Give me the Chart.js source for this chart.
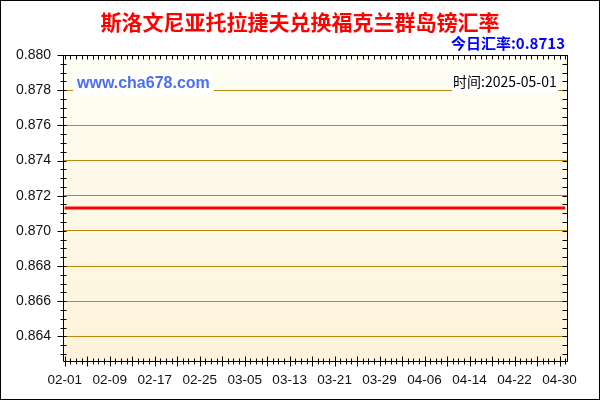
<!DOCTYPE html>
<html>
<head>
<meta charset="utf-8">
<script src="https://cdn.jsdelivr.net/npm/chart.js@4/dist/chart.umd.min.js"></script>
<style>
body{margin:0;background:#fff;}
canvas{display:block;}
</style>
</head>
<body>
<canvas id="myChart" width="600" height="400"></canvas>
<script>
const dates = [
    '02-01','02-02','02-03','02-04','02-05','02-06','02-07','02-08','02-09','02-10',
    '02-11','02-12','02-13','02-14','02-15','02-16','02-17','02-18','02-19','02-20',
    '02-21','02-22','02-23','02-24','02-25','02-26','02-27','02-28',
    '03-01','03-02','03-03','03-04','03-05','03-06','03-07','03-08','03-09','03-10',
    '03-11','03-12','03-13','03-14','03-15','03-16','03-17','03-18','03-19','03-20',
    '03-21','03-22','03-23','03-24','03-25','03-26','03-27','03-28','03-29','03-30','03-31',
    '04-01','04-02','04-03','04-04','04-05','04-06','04-07','04-08','04-09','04-10',
    '04-11','04-12','04-13','04-14','04-15','04-16','04-17','04-18','04-19','04-20',
    '04-21','04-22','04-23','04-24','04-25','04-26','04-27','04-28','04-29','04-30',
    '05-01'
];
const rates = [
    0.8713,0.8713,0.8713,0.8713,0.8713,0.8713,0.8713,0.8713,0.8713,0.8713,
    0.8713,0.8713,0.8713,0.8713,0.8713,0.8713,0.8713,0.8713,0.8713,0.8713,
    0.8713,0.8713,0.8713,0.8713,0.8713,0.8713,0.8713,0.8713,
    0.8713,0.8713,0.8713,0.8713,0.8713,0.8713,0.8713,0.8713,0.8713,0.8713,
    0.8713,0.8713,0.8713,0.8713,0.8713,0.8713,0.8713,0.8713,0.8713,0.8713,
    0.8713,0.8713,0.8713,0.8713,0.8713,0.8713,0.8713,0.8713,0.8713,0.8713,0.8713,
    0.8713,0.8713,0.8713,0.8713,0.8713,0.8713,0.8713,0.8713,0.8713,0.8713,
    0.8713,0.8713,0.8713,0.8713,0.8713,0.8713,0.8713,0.8713,0.8713,0.8713,
    0.8713,0.8713,0.8713,0.8713,0.8713,0.8713,0.8713,0.8713,0.8713,0.8713,
    0.8713
];
const xTickLabels = ['02-01','02-09','02-17','02-25','03-05','03-13','03-21','03-29','04-06','04-14','04-22','04-30'];
const yTicks = [0.864,0.866,0.868,0.870,0.872,0.874,0.876,0.878,0.880];

const titleText = '斯洛文尼亚托拉捷夫兑换福克兰群岛镑汇率';
const todayText = '今日汇率:0.8713';
const siteText = 'www.cha678.com';
const timeText = '时间:2025-05-01';

// background of the plot area
const bgPlugin = {
    id: 'bgPlugin',
    beforeDraw(chart){
        const ctx = chart.ctx;
        const a = chart.chartArea;
        ctx.save();
        ctx.fillStyle = '#fff';
        ctx.fillRect(0, 0, chart.width, chart.height);
        const g = ctx.createLinearGradient(0, a.top, 0, a.bottom);
        g.addColorStop(0, '#fefef4');
        g.addColorStop(1, '#fef3da');
        ctx.fillStyle = g;
        ctx.fillRect(a.left, a.top, a.right - a.left, a.bottom - a.top);
        ctx.restore();
    }
};

// frame, small ticks on every side, texts
const framePlugin = {
    id: 'framePlugin',
    afterDraw(chart){
        const ctx = chart.ctx;
        const a = chart.chartArea;
        const x = chart.scales.x;
        const y = chart.scales.y;
        const L = Math.round(a.left) + 0.5, R = Math.round(a.right) - 0.5;
        const T = Math.round(a.top) + 0.5, B = Math.round(a.bottom) + 0.5;
        ctx.save();
        ctx.strokeStyle = '#000';
        ctx.lineWidth = 1;
        ctx.beginPath();
        ctx.moveTo(L, T); ctx.lineTo(R, T); ctx.lineTo(R, B); ctx.lineTo(L, B); ctx.closePath();
        for(let i=0;i<dates.length;i++){
            const px = Math.round(x.getPixelForValue(i)) + 0.5;
            const len = (i % 4 == 0) ? 5 : 3;
            ctx.moveTo(px, B - len); ctx.lineTo(px, B + len);
            ctx.moveTo(px, T); ctx.lineTo(px, T + 4);
        }
        for(let k=0;k<=40;k++){
            const v = 0.860 + k*0.0005;
            if(v < y.min - 1e-9 || v > y.max + 1e-9) continue;
            const py = Math.round(y.getPixelForValue(v)) + 0.5;
            const major = (k % 4 == 0);
            ctx.moveTo(L - (major ? 6 : 3), py); ctx.lineTo(L + 3, py);
            ctx.moveTo(R - 5, py); ctx.lineTo(R, py);
        }
        ctx.stroke();

        // white boxes behind the inner texts
        ctx.fillStyle = '#fff';
        ctx.fillRect(73, 74, 141, 21);
        ctx.fillRect(452, 73, 106, 20);

        ctx.textBaseline = 'middle';
        ctx.textAlign = 'center';
        ctx.fillStyle = '#ff0000';
        ctx.font = 'bold 21px "Noto Sans CJK SC"';
        ctx.fillText(titleText, 300, 22);

        ctx.textAlign = 'right';
        ctx.fillStyle = '#0000ff';
        ctx.font = 'bold 15px "Noto Sans CJK SC"';
        ctx.fillText(todayText, 565, 43);

        ctx.textAlign = 'left';
        ctx.fillStyle = '#4a6ff0';
        ctx.font = 'bold 16px "Liberation Sans", Arial';
        ctx.fillText(siteText, 77, 84);

        ctx.fillStyle = '#000';
        ctx.font = '14px "Noto Sans CJK SC"';
        ctx.fillText(timeText, 453, 82);

        ctx.strokeRect(0.5, 0.5, chart.width - 1, chart.height - 1);
        ctx.restore();
    }
};

const points = dates.map((d, i) => ({x: i, y: rates[i]}));

const myChart = new Chart(document.getElementById('myChart'), {
    type: 'line',
    data: {
        datasets: [{
            data: points,
            borderColor: '#ff0000',
            borderWidth: 3,
            pointRadius: 0,
            tension: 0
        }]
    },
    options: {
        responsive: false,
        animation: false,
        devicePixelRatio: 1,
        layout: { padding: { top: 55, right: 32, left: 0, bottom: 0 } },
        plugins: { legend: { display: false }, tooltip: { enabled: false } },
        scales: {
            x: {
                type: 'linear',
                min: -0.3,
                max: 89.5,
                afterFit(scale){ scale.height = 39; },
                afterBuildTicks(scale){
                    scale.ticks = xTickLabels.map(l => ({value: dates.indexOf(l)}));
                },
                grid: { display: false, drawTicks: false },
                border: { display: false },
                ticks: {
                    autoSkip: false,
                    maxRotation: 0,
                    padding: 11,
                    color: '#111',
                    font: { family: '"Liberation Sans", Arial', size: 13.5 },
                    callback: (v) => dates[v]
                }
            },
            y: {
                min: 0.8626,
                max: 0.880,
                afterFit(scale){ scale.width = 63; },
                afterBuildTicks(scale){
                    scale.ticks = yTicks.map(v => ({value: v}));
                },
                grid: { color: '#bb8a0a', lineWidth: 1, drawTicks: false },
                border: { display: false },
                ticks: {
                    padding: 12,
                    color: '#111',
                    font: { family: '"Liberation Sans", Arial', size: 14 },
                    callback: (v) => v.toFixed(3)
                }
            }
        }
    },
    plugins: [bgPlugin, framePlugin]
});
</script>
</body>
</html>
